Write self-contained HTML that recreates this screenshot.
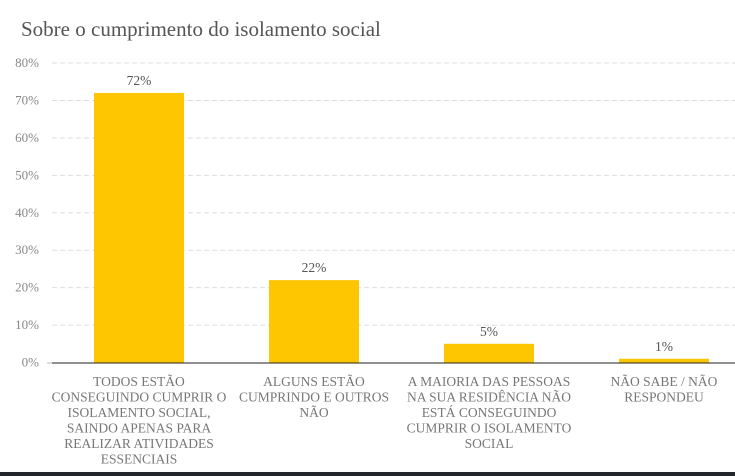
<!DOCTYPE html>
<html><head><meta charset="utf-8"><style>
body{margin:0;background:#fff;width:735px;height:476px;overflow:hidden;position:relative;font-family:"Liberation Serif",serif}
#title{position:absolute;left:21px;top:17px;font-size:21px;color:#555}
svg{position:absolute;left:0;top:0}
#band{position:absolute;left:0;top:472px;width:735px;height:4px;background:#23272c}
</style></head><body>
<div id="title">Sobre o cumprimento do isolamento social</div>
<svg id="chart" width="735" height="476"></svg>
<div id="band"></div>
<script>
const categories=[["TODOS ESTÃO","CONSEGUINDO CUMPRIR O","ISOLAMENTO SOCIAL,","SAINDO APENAS PARA","REALIZAR ATIVIDADES","ESSENCIAIS"],["ALGUNS ESTÃO","CUMPRINDO E OUTROS","NÃO"],["A MAIORIA DAS PESSOAS","NA SUA RESIDÊNCIA NÃO","ESTÁ CONSEGUINDO","CUMPRIR O ISOLAMENTO","SOCIAL"],["NÃO SABE / NÃO","RESPONDEU"]];
const values=[72,22,5,1];
const ticks=[0,10,20,30,40,50,60,70,80];
const NS="http://www.w3.org/2000/svg";
const svg=document.getElementById('chart');
const x0=52,x1=735,y0=362.5,y1=63,maxV=80;
const y=v=>y0-(v/maxV)*(y0-y1);
const band=175;
const xc=i=>51.5+band*(i+0.5);
function mk(t,a){const e=document.createElementNS(NS,t);for(const k in a)e.setAttribute(k,a[k]);svg.appendChild(e);return e;}
ticks.forEach(t=>{
  if(t>0){const g=mk('line',{x1:x0,x2:x1,y1:y(t),y2:y(t),stroke:'#ddd','stroke-dasharray':'5,3'});
  
  }
  const l=mk('text',{x:39,y:y(t)+4,'text-anchor':'end','font-size':13,fill:'#888'});
  l.textContent=t+'%';
  
  
});
values.forEach((v,i)=>{
  const r=mk('rect',{x:xc(i)-45,y:y(v),width:90,height:y0-y(v),fill:'#fdc600'});
  
  
  const t=mk('text',{x:xc(i),y:y(v)-8,'text-anchor':'middle','font-size':13.5,fill:'#555'});
  t.textContent=v+'%';
  
  
  categories[i].forEach((s,j)=>{
    const c=mk('text',{x:xc(i),y:386+j*15.5,'text-anchor':'middle','font-size':13.5,fill:'#777'});
    c.textContent=s;
    
    
  });
});
const ax=mk('line',{x1:x0,x2:x1,y1:y0+0.5,y2:y0+0.5,stroke:'#222','stroke-width':1});


const tk=mk('line',{x1:47,x2:x0,y1:y0+0.5,y2:y0+0.5,stroke:'#bbb'});


</script>
</body></html>
